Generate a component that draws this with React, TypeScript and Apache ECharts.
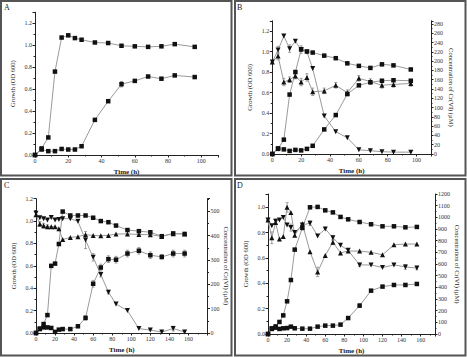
import React, { useEffect, useRef } from "react";
import * as echarts from "echarts";

const FONT = '"Liberation Serif", "DejaVu Serif", serif';

// ---- Panel A ----
const timeA = [0, 4, 8, 12, 16, 20, 24, 28, 36, 44, 52, 60, 68, 76, 84, 96];
const growthA1 = [0.0, 0.06, 0.16, 0.76, 1.07, 1.09, 1.065, 1.05, 1.025, 1.02, 0.995, 0.99, 0.985, 0.99, 1.01, 0.985];
const growthA2 = [0.0, 0.05, 0.035, 0.035, 0.055, 0.05, 0.05, 0.08, 0.32, 0.49, 0.645, 0.675, 0.715, 0.695, 0.725, 0.71];
const errA2 = [0, 0, 0, 0, 0, 0, 0, 0, 0.01, 0.01, 0.025, 0.01, 0.01, 0.01, 0.01, 0.01];

// ---- Panel B ----
const timeB = [0, 4, 8, 12, 16, 20, 24, 28, 36, 44, 52, 60, 68, 76, 84, 96];
const growthB1 = [0.0, 0.05, 0.14, 0.58, 0.8, 1.02, 1.0, 0.99, 0.96, 0.935, 0.885, 0.86, 0.84, 0.875, 0.865, 0.825];
const growthB2 = [0.0, 0.055, 0.045, 0.03, 0.04, 0.035, 0.05, 0.08, 0.24, 0.38, 0.585, 0.67, 0.7, 0.715, 0.72, 0.715];
const crB1 = [198, 224, 254, 227, 243, 225, 220, 184, 82, 48, 35, 9, 7, 5, 4, 4];
const crB2 = [198, 211, 155, 160, 168, 155, 165, 134, 136, 148, 132, 163, 156, 148, 150, 152];
const errCrB1 = [0, 8, 0, 8, 0, 8, 0, 0, 0, 0, 0, 0, 0, 0, 0, 0];
const errCrB2 = [0, 8, 8, 6, 6, 8, 8, 8, 6, 6, 6, 6, 6, 6, 6, 6];

// ---- Panel C ----
const timeC = [0, 4, 8, 12, 16, 20, 24, 28, 36, 44, 52, 60, 68, 76, 84, 96, 108, 120, 132, 144, 156];
const growthC1 = [0.0, 0.035, 0.08, 0.16, 0.6, 0.62, 0.795, 1.085, 1.05, 1.05, 1.05, 1.03, 1.0, 0.99, 0.96, 0.92, 0.91, 0.9, 0.865, 0.89, 0.885];
const growthC2 = [0.0, 0.04, 0.05, 0.05, 0.045, 0.01, 0.03, 0.035, 0.035, 0.06, 0.135, 0.44, 0.585, 0.66, 0.655, 0.71, 0.735, 0.695, 0.68, 0.71, 0.71];
const crC1 = [492, 474, 470, 464, 475, 464, 467, 470, 470, 459, 382, 311, 240, 168, 119, 92, 18, 12, 4, 18, 4];
const crC2 = [486, 448, 441, 437, 437, 437, 429, 384, 393, 396, 404, 401, 400, 401, 407, 407, 405, 404, 397, 408, 407];
const errGrowthC2 = [0, 0, 0.01, 0, 0, 0, 0, 0, 0, 0, 0.02, 0.03, 0.03, 0.03, 0.03, 0.03, 0.03, 0.03, 0.02, 0.03, 0.03];
const errCrC1 = [0, 0, 0, 0, 0, 0, 0, 0, 0, 0, 35, 15, 10, 8, 0, 0, 0, 0, 0, 10, 0];
const errCrC2 = [0, 10, 10, 8, 0, 0, 0, 0, 0, 0, 0, 0, 0, 0, 0, 0, 0, 0, 0, 0, 0];

// ---- Panel D ----
const timeD = [0, 4, 8, 12, 16, 20, 24, 28, 36, 44, 52, 60, 68, 76, 84, 96, 108, 120, 132, 144, 156];
const growthD1 = [0.0, 0.045, 0.06, 0.095, 0.147, 0.258, 0.426, 0.666, 0.837, 1.0, 1.003, 0.976, 0.96, 0.924, 0.905, 0.884, 0.866, 0.85, 0.85, 0.842, 0.845];
const growthD2 = [0.0, 0.04, 0.05, 0.04, 0.045, 0.047, 0.058, 0.045, 0.042, 0.042, 0.058, 0.066, 0.066, 0.074, 0.126, 0.224, 0.342, 0.374, 0.387, 0.387, 0.395];
const crD1 = [977, 928, 966, 977, 999, 934, 912, 869, 934, 950, 841, 901, 825, 760, 717, 592, 592, 570, 592, 575, 565];
const crD2 = [977, 825, 955, 814, 836, 1086, 1042, 847, 945, 706, 532, 673, 787, 695, 711, 711, 700, 679, 765, 771, 771];
const errGrowthD2 = [0, 0, 0, 0, 0, 0, 0, 0, 0, 0, 0, 0, 0, 0, 0.01, 0.015, 0.01, 0, 0, 0, 0];
const errCrD1 = [0, 0, 20, 0, 0, 0, 30, 0, 0, 20, 0, 0, 20, 0, 0, 15, 0, 0, 0, 20, 15];
const errCrD2 = [0, 50, 0, 0, 0, 40, 0, 0, 0, 0, 40, 0, 20, 0, 0, 0, 0, 0, 0, 0, 0];

const AXIS_COLOR = "#222";
const LABEL_COLOR = "#333";

function xAxisCfg(grid: number, max: number) {
  return {
    type: "value",
    gridIndex: grid,
    min: 0,
    max,
    interval: 20,
    name: "Time (h)",
    nameLocation: "middle",
    nameGap: 13,
    nameTextStyle: { fontFamily: FONT, fontSize: 7, fontWeight: "bold", color: "#222" },
    axisLine: { show: true, onZero: false, lineStyle: { color: AXIS_COLOR, width: 1 } },
    axisTick: { show: true, length: 2.5, lineStyle: { color: AXIS_COLOR } },
    minorTick: { show: true, splitNumber: 2, length: 1.5, lineStyle: { color: AXIS_COLOR } },
    axisLabel: { fontFamily: FONT, fontSize: 6, color: LABEL_COLOR, margin: 3, showMaxLabel: false },
    splitLine: { show: false },
  };
}

function yAxisCfg(
  grid: number,
  max: number,
  interval: number,
  side: "left" | "right",
  showMax: boolean,
  digits: number,
  nameGap: number
) {
  return {
    type: "value",
    gridIndex: grid,
    position: side,
    min: 0,
    max,
    interval,
    name: side === "left" ? "Growth (OD 600)" : "Concentration of Cr(VI) (\u00b5M)",
    nameLocation: "middle",
    nameRotate: side === "left" ? 90 : -90,
    nameGap,
    nameTextStyle: { fontFamily: FONT, fontSize: 6.5, color: "#222" },
    axisLine: { show: true, onZero: false, lineStyle: { color: AXIS_COLOR, width: 1 } },
    axisTick: { show: true, length: 2.5, lineStyle: { color: AXIS_COLOR } },
    minorTick: { show: true, splitNumber: 2, length: 1.5, lineStyle: { color: AXIS_COLOR } },
    axisLabel: {
      fontFamily: FONT,
      fontSize: 6,
      color: LABEL_COLOR,
      margin: 3,
      showMaxLabel: showMax,
      formatter: (v: number) => v.toFixed(digits),
    },
    splitLine: { show: false },
  };
}

function lineSeries(
  xs: number[],
  ys: number[],
  xIdx: number,
  yIdx: number,
  symbol: string,
  rotate = 0,
  size = 4.5
) {
  return {
    type: "line",
    xAxisIndex: xIdx,
    yAxisIndex: yIdx,
    data: xs.map((x, i) => [x, ys[i]]),
    symbol,
    symbolRotate: rotate,
    symbolSize: size,
    showAllSymbol: true,
    itemStyle: { color: "#111" },
    lineStyle: { color: "#9a9a9a", width: 1 },
    z: 3,
  };
}

function errorSeries(xs: number[], ys: number[], errs: number[], xIdx: number, yIdx: number) {
  const data: number[][] = [];
  xs.forEach((x, i) => {
    if (errs[i] > 0) data.push([x, ys[i] - errs[i], ys[i] + errs[i]]);
  });
  return {
    type: "custom",
    xAxisIndex: xIdx,
    yAxisIndex: yIdx,
    data,
    encode: { x: 0, y: [1, 2] },
    z: 2,
    silent: true,
    renderItem: (_params: any, api: any) => {
      const x = api.value(0);
      const lo = api.coord([x, api.value(1)]);
      const hi = api.coord([x, api.value(2)]);
      const st = { stroke: "#8a8a8a", lineWidth: 0.8 };
      return {
        type: "group",
        children: [
          { type: "line", shape: { x1: lo[0], y1: lo[1], x2: hi[0], y2: hi[1] }, style: st },
          { type: "line", shape: { x1: lo[0] - 1.5, y1: lo[1], x2: lo[0] + 1.5, y2: lo[1] }, style: st },
          { type: "line", shape: { x1: hi[0] - 1.5, y1: hi[1], x2: hi[0] + 1.5, y2: hi[1] }, style: st },
        ],
      };
    },
  };
}

function panelLetter(text: string, x: number, y: number) {
  return {
    type: "text",
    x,
    y,
    style: { text, fontFamily: FONT, fontSize: 8, fill: "#222" },
  };
}

function border(x: number, y: number, w: number, h: number) {
  return {
    type: "rect",
    shape: { x, y, width: w, height: h },
    style: { fill: "none", stroke: "#555", lineWidth: 2 },
    silent: true,
  };
}

export default function App() {
  const ref = useRef<HTMLDivElement>(null);

  useEffect(() => {
    if (!ref.current) return;
    const chart = echarts.init(ref.current, null, { renderer: "svg" });
    const option = {
      animation: false,
      backgroundColor: "#fff",
      grid: [
        { left: 35, top: 12.3, width: 183, height: 142.7 },
        { left: 272.3, top: 20.8, width: 158.7, height: 133.2 },
        { left: 36, top: 198.7, width: 171.5, height: 134.3 },
        { left: 268, top: 194, width: 167, height: 140 },
      ],
      xAxis: [xAxisCfg(0, 110), xAxisCfg(1, 110), xAxisCfg(2, 180), xAxisCfg(3, 175)],
      yAxis: [
        yAxisCfg(0, 1.3, 0.2, "left", false, 1, 19),
        yAxisCfg(1, 1.3, 0.2, "left", false, 1, 19),
        yAxisCfg(1, 287, 20, "right", false, 0, 17),
        yAxisCfg(2, 1.2, 0.2, "left", true, 1, 19),
        yAxisCfg(2, 552, 100, "right", false, 0, 14),
        yAxisCfg(3, 1.105, 0.2, "left", false, 1, 19),
        yAxisCfg(3, 1200, 100, "right", true, 0, 19),
      ],
      series: [
        errorSeries(timeA, growthA2, errA2, 0, 0),
        errorSeries(timeB, crB1, errCrB1, 1, 2),
        errorSeries(timeB, crB2, errCrB2, 1, 2),
        errorSeries(timeC, growthC2, errGrowthC2, 2, 3),
        errorSeries(timeC, crC1, errCrC1, 2, 4),
        errorSeries(timeC, crC2, errCrC2, 2, 4),
        errorSeries(timeD, growthD2, errGrowthD2, 3, 5),
        errorSeries(timeD, crD1, errCrD1, 3, 6),
        errorSeries(timeD, crD2, errCrD2, 3, 6),
        lineSeries(timeA, growthA1, 0, 0, "rect"),
        lineSeries(timeA, growthA2, 0, 0, "rect"),
        lineSeries(timeB, growthB1, 1, 1, "rect"),
        lineSeries(timeB, growthB2, 1, 1, "rect"),
        lineSeries(timeB, crB1, 1, 2, "triangle", 180, 5),
        lineSeries(timeB, crB2, 1, 2, "triangle", 0, 5),
        lineSeries(timeC, growthC1, 2, 3, "rect"),
        lineSeries(timeC, growthC2, 2, 3, "rect"),
        lineSeries(timeC, crC1, 2, 4, "triangle", 180, 5),
        lineSeries(timeC, crC2, 2, 4, "triangle", 0, 5),
        lineSeries(timeD, growthD1, 3, 5, "rect"),
        lineSeries(timeD, growthD2, 3, 5, "rect"),
        lineSeries(timeD, crD1, 3, 6, "triangle", 180, 5),
        lineSeries(timeD, crD2, 3, 6, "triangle", 0, 5),
      ],
      graphic: [
        border(1, 1, 230.5, 174.5),
        border(235, 1, 230.5, 174.5),
        border(1, 179, 230.5, 176.5),
        border(235, 179, 230.5, 176.5),
        panelLetter("A", 4, 3),
        panelLetter("B", 237, 3),
        panelLetter("C", 4, 181),
        panelLetter("D", 237, 181),
      ],
    };
    chart.setOption(option as any);
    return () => chart.dispose();
  }, []);

  return (
    <div
      ref={ref}
      style={{ position: "absolute", left: 0, top: 0, width: 467, height: 357 }}
    />
  );
}
